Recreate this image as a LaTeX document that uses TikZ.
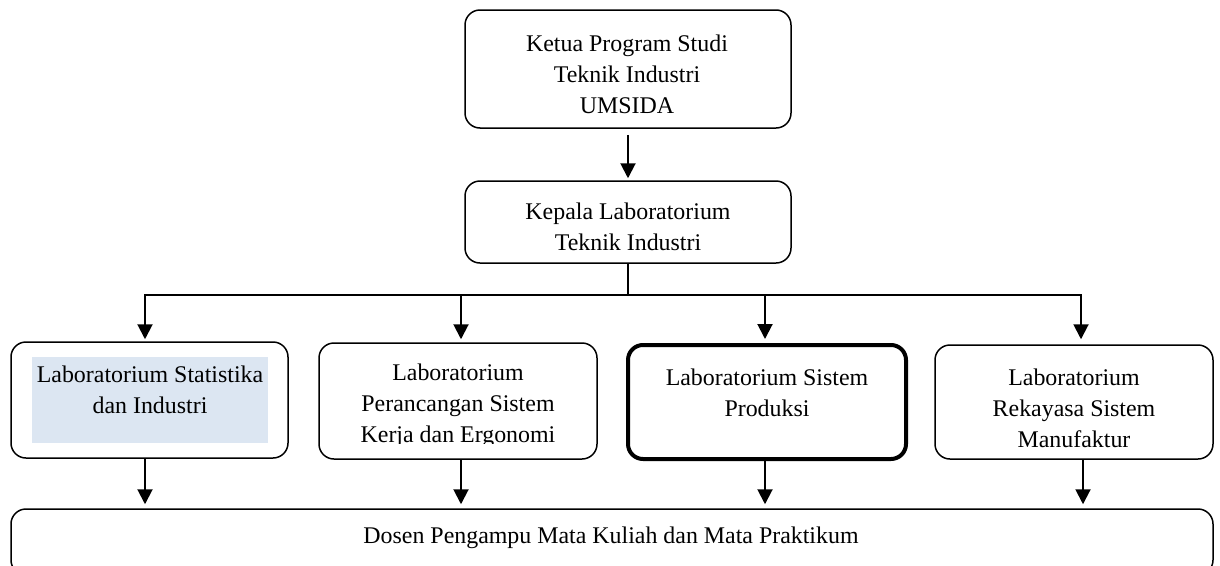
\documentclass[tikz,border=0pt]{standalone}
\usepackage{fontspec}
\setmainfont{Liberation Serif}
\usetikzlibrary{arrows.meta,calc}
\definecolor{hlblue}{HTML}{DCE6F2}
\begin{document}
\begin{tikzpicture}[x=1pt,y=-1pt,
  box/.style={draw=black,line width=1.5pt,rounded corners=15pt,inner sep=0pt,fill=none},
  thickbox/.style={box,line width=4pt},
  lbl/.style={align=center,inner sep=0pt,font=\fontsize{23.9}{31}\selectfont},
  arr/.style={line width=2pt,-{Triangle[width=15pt,length=15pt]}},
  link/.style={line width=2pt},
  thinlink/.style={line width=1.2pt}]
\useasboundingbox (0,0) rectangle (1220,565);
% boxes
\node[box,minimum width=326pt,minimum height=118pt] (ketua) at (628,69) {};
\node[box,minimum width=326pt,minimum height=82pt] (kepala) at (628,222) {};
\fill[hlblue] (32,357) rectangle (268,443);
\node[box,minimum width=277pt,minimum height=116pt] (lab1) at (149.5,400) {};
\node[box,minimum width=278pt,minimum height=116pt] (lab2) at (458,401) {};
\node[thickbox,minimum width=278pt,minimum height=114pt] (lab3) at (767,402) {};
\node[box,minimum width=278pt,minimum height=114pt] (lab4) at (1074,402) {};
\node[box,minimum width=1202pt,minimum height=66pt] (dosen) at (612,542) {};
% texts
\node[lbl] (tketua) at (627,74) {Ketua Program Studi\\Teknik Industri\\UMSIDA};
\node[lbl] (tkepala) at (628,227) {Kepala Laboratorium\\Teknik Industri};
\node[lbl] (tlab1) at (150,390) {Laboratorium Statistika\\dan Industri};
\begin{scope}
\clip (320,344) rectangle (596,443);
\node[lbl] (tlab2) at (458,406) {Laboratorium\\Perancangan Sistem\\Kerja dan Ergonomi};
\end{scope}
\node[lbl] (tlab3) at (767,393) {Laboratorium Sistem\\Produksi};
\node[lbl] (tlab4) at (1074,408) {Laboratorium\\Rekayasa Sistem\\Manufaktur};
\node[lbl] (tdosen) at (611,538) {Dosen Pengampu Mata Kuliah dan Mata Praktikum};
% connectors
\draw[arr,shorten >=2pt] ([yshift=-6pt]ketua.south) -- (kepala.north);
\coordinate (hub) at (628,295);
\coordinate (h1) at (145,295);
\coordinate (h2) at (461,295);
\coordinate (h3) at (765,295);
\coordinate (h4) at (1081,295);
\draw[thinlink] (kepala.south) -- (hub);
\draw[link] ([xshift=-1pt]h1) -- ([xshift=1pt]h4);
\draw[arr,shorten >=2pt] (h1) -- (h1 |- lab1.north);
\draw[arr,shorten >=3pt] (h2) -- (h2 |- lab2.north);
\draw[arr,shorten >=4pt] (h3) -- (h3 |- lab3.north);
\draw[arr,shorten >=5pt] (h4) -- (h4 |- lab4.north);
\coordinate (d1) at (145,458);
\coordinate (d2) at (461,459);
\coordinate (d3) at (765,460);
\coordinate (d4) at (1083,459);
\draw[arr,shorten >=4pt] (d1) -- (d1 |- dosen.north);
\draw[arr,shorten >=4pt] (d2) -- (d2 |- dosen.north);
\draw[arr,shorten >=4pt] (d3) -- (d3 |- dosen.north);
\draw[arr,shorten >=4pt] (d4) -- (d4 |- dosen.north);
\end{tikzpicture}
\end{document}
